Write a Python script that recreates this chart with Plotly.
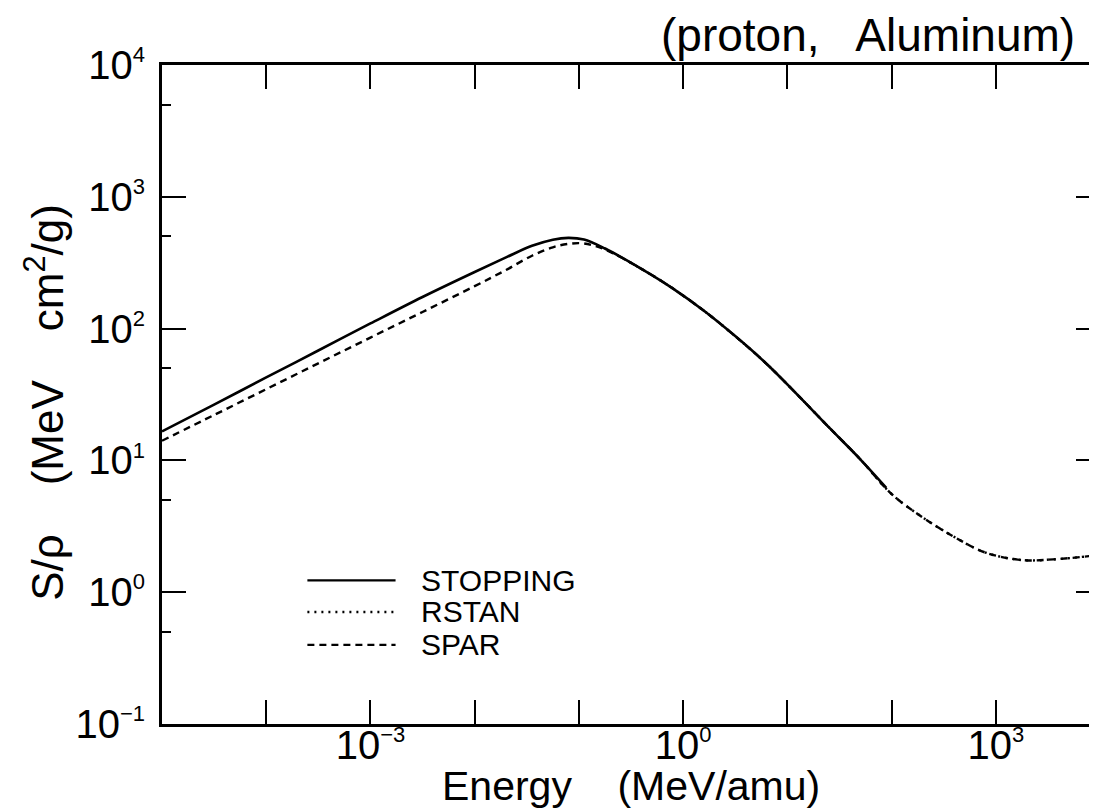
import plotly.graph_objects as go

# ---------------- data ----------------
# STOPPING (solid)
stop_E = [1e-5, 3.16e-5, 1e-4, 3.16e-4, 1e-3, 3.16e-3, 0.01, 0.02, 0.0355, 0.0562,
          0.0794, 0.112, 0.178, 0.398, 0.794, 1.585, 3.16, 6.31, 12.6, 25.1, 50.1, 89.0]
stop_S = [16.6, 26.5, 42.6, 68.2, 109.4, 173.8, 269.0, 347.0, 425.0, 473.0,
          488.0, 474.0, 405.0, 284.0, 202.0, 136.5, 87.7, 54.1, 31.3, 17.8, 10.2, 6.2]

# RSTAN (dotted)
rstan_E = [0.178, 0.398, 0.794, 1.585, 3.16, 6.31, 12.6, 25.1, 50.1, 100.0,
           199.5, 398.0, 794.0, 1778.0, 3548.0, 7943.0, 10000.0]
rstan_S = [405.0, 284.0, 202.0, 136.5, 87.7, 54.1, 31.3, 17.8, 10.2, 5.56,
           3.69, 2.63, 2.00, 1.754, 1.774, 1.879, 1.923]

# SPAR (dashed)
spar_E = [1e-5, 3.16e-5, 1e-4, 3.16e-4, 1e-3, 3.16e-3, 0.01, 0.02, 0.0355, 0.0562,
          0.0794, 0.112, 0.178, 0.398, 0.794, 1.585, 3.16, 6.31, 12.6, 25.1, 50.1,
          100.0, 199.5, 398.0, 794.0, 1778.0, 3548.0, 7943.0, 10000.0]
spar_S = [14.1, 22.1, 34.7, 54.5, 85.5, 133.7, 209.9, 278.6, 357.3, 414.0,
          439.5, 442.6, 398.1, 284.0, 202.0, 136.5, 87.7, 54.1, 31.3, 17.8, 10.2,
          5.56, 3.69, 2.63, 2.00, 1.754, 1.774, 1.879, 1.923]

SUP = "<sup><span style='font-size:22px'>{}</span></sup>"
x_tick_vals = [1e-3, 1e0, 1e3]
x_tick_text = ["10" + SUP.format("\u22123"), "10" + SUP.format("0"), "10" + SUP.format("3")]
x_minor_vals = [1e-4, 1e-2, 1e-1, 1e1, 1e2]
y_tick_vals = [1e-1, 1e0, 1e1, 1e2, 1e3, 1e4]
y_tick_text = ["10" + SUP.format("\u22121"), "10" + SUP.format("0"), "10" + SUP.format("1"),
               "10" + SUP.format("2"), "10" + SUP.format("3"), "10" + SUP.format("4")]
y_minor_vals = [0.5, 5, 50, 500, 5000]

legend_names = ["STOPPING", "RSTAN", "SPAR"]
legend_dash = ["solid", "2px,5px", "7px,5px"]

FONT = "Liberation Sans, Arial, sans-serif"
INK = "#000000"

fig = go.Figure()
fig.add_trace(go.Scatter(x=spar_E, y=spar_S, mode="lines", name="SPAR",
                         line=dict(color=INK, width=2.4, dash=legend_dash[2], shape="spline", smoothing=1.0)))
fig.add_trace(go.Scatter(x=rstan_E, y=rstan_S, mode="lines", name="RSTAN",
                         line=dict(color=INK, width=2.4, dash=legend_dash[1], shape="spline", smoothing=1.0)))
fig.add_trace(go.Scatter(x=stop_E, y=stop_S, mode="lines", name="STOPPING",
                         line=dict(color=INK, width=2.6, dash=legend_dash[0], shape="spline", smoothing=1.0)))

# manual legend (long line samples as in the original)
leg_y = [0.218, 0.170, 0.120]
for name, dash, yy in zip(legend_names, legend_dash, leg_y):
    fig.add_shape(type="line", xref="paper", yref="paper",
                  x0=0.155, x1=0.249, y0=yy, y1=yy,
                  line=dict(color=INK, width=2.4, dash=dash))
    fig.add_annotation(xref="paper", yref="paper", x=0.274, y=yy, text=name,
                       showarrow=False, xanchor="left", yanchor="middle",
                       font=dict(family=FONT, size=30, color=INK))

# header text
fig.add_annotation(xref="paper", yref="paper", x=0.975, y=1.0, text="(proton,   Aluminum)",
                   showarrow=False, xanchor="right", yanchor="bottom", yshift=2,
                   font=dict(family=FONT, size=46, color=INK))
# axis titles
fig.add_annotation(xref="paper", yref="paper", x=0.5, y=-0.094, text="Energy    (MeV/amu)",
                   showarrow=False, xanchor="center", yanchor="middle",
                   font=dict(family=FONT, size=41, color=INK))
fig.add_annotation(xref="paper", yref="paper", x=-0.1254, y=0.488, textangle=-90,
                   text="S/\u03c1    (MeV    cm<sup>2</sup>/g)",
                   showarrow=False, xanchor="center", yanchor="middle",
                   font=dict(family=FONT, size=44, color=INK))

fig.update_xaxes(type="log", range=[-5, 4], tickvals=x_tick_vals, ticktext=x_tick_text,
                 ticks="inside", ticklen=24, tickwidth=2, tickcolor=INK,
                 showline=True, linewidth=3, linecolor=INK, mirror="ticks",
                 showgrid=False, zeroline=False, ticklabelstandoff=-16,
                 minor=dict(tickvals=x_minor_vals, ticks="inside", ticklen=24, tickwidth=2,
                            tickcolor=INK, showgrid=False),
                 tickfont=dict(family=FONT, size=40, color=INK))
fig.update_yaxes(type="log", range=[-1, 4], tickvals=y_tick_vals, ticktext=y_tick_text,
                 ticks="inside", ticklen=24, tickwidth=2, tickcolor=INK,
                 showline=True, linewidth=3, linecolor=INK, mirror="ticks",
                 showgrid=False, zeroline=False, ticklabelstandoff=6,
                 minor=dict(tickvals=y_minor_vals, ticks="inside", ticklen=9, tickwidth=2,
                            tickcolor=INK, showgrid=False),
                 tickfont=dict(family=FONT, size=40, color=INK))

fig.update_layout(width=1097, height=812, showlegend=False,
                  margin=dict(l=154, r=2, t=57, b=96),
                  paper_bgcolor="white", plot_bgcolor="white",
                  font=dict(family=FONT, color=INK))

fig.write_html("out.html")
